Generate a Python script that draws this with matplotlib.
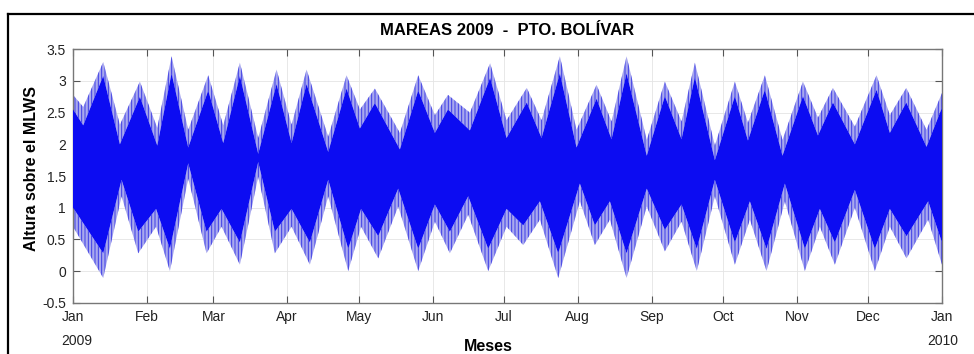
import numpy as np
import matplotlib
matplotlib.use("Agg")
import matplotlib.pyplot as plt
import matplotlib.dates as mdates
from matplotlib.lines import Line2D
from matplotlib.ticker import FuncFormatter

plt.rcParams["font.family"] = ["Liberation Sans", "DejaVu Sans"]
plt.rcParams["hatch.linewidth"] = 0.7

# Hourly tide envelope, Puerto Bolivar 2009 (day of year, metres over MLWS).
# Upper side: highest high water and the top of the dense band of highs.
HIGH_DAYS = [0, 4.3, 12.7, 19.7, 28.1, 35.4, 41.4, 48.4, 56.8, 63.1, 70.1, 77.8,
             85.5, 91.8, 98.1, 107.2, 114.9, 120.5, 126.8, 137.3, 145.0, 152.0,
             157.5, 166.7, 175.2, 182.1, 190.6, 196.8, 204.5, 211.5, 219.9, 226.2,
             232.5, 241.0, 248.6, 255.6, 261.2, 269.6, 278.0, 283.5, 290.6, 298.0,
             306.6, 312.9, 319.2, 328.4, 337.5, 343.1, 350.0, 358.5, 365.0]
HIGH_MAX = [2.78, 2.59, 3.30, 2.31, 2.99, 2.26, 3.39, 2.23, 3.09, 2.30, 3.29, 2.10,
            3.18, 2.31, 3.18, 2.12, 3.09, 2.55, 2.88, 2.18, 3.09, 2.46,
            2.78, 2.50, 3.28, 2.38, 2.89, 2.38, 3.39, 2.23, 2.94, 2.36,
            3.39, 2.07, 2.99, 2.36, 3.29, 1.98, 2.99, 2.34, 3.09, 2.07,
            2.99, 2.42, 2.89, 2.28, 3.09, 2.46, 2.89, 2.23, 2.81]
HIGH_CORE = [2.55, 2.30, 3.08, 2.00, 2.75, 1.98, 3.12, 1.95, 2.85, 2.02, 3.08, 1.85,
             2.95, 2.02, 2.95, 1.88, 2.88, 2.25, 2.65, 1.92, 2.85, 2.18,
             2.55, 2.22, 3.05, 2.10, 2.66, 2.10, 3.12, 1.95, 2.72, 2.08,
             3.12, 1.82, 2.76, 2.08, 3.06, 1.75, 2.76, 2.06, 2.86, 1.82,
             2.76, 2.14, 2.66, 2.00, 2.86, 2.18, 2.66, 1.96, 2.58]

# Lower side: lowest low water and the bottom of the dense band of lows.
LOW_DAYS = [0, 12.7, 20.4, 27.4, 34.9, 40.7, 48.4, 56.1, 62.4, 70.1, 77.8, 84.8,
            91.8, 99.5, 107.2, 115.6, 121.0, 128.2, 136.6, 145.0, 152.0, 158.3,
            166.0, 174.4, 182.1, 189.1, 196.1, 203.8, 212.9, 219.2, 225.5, 232.5,
            241.0, 248.6, 255.6, 262.0, 269.6, 278.0, 284.3, 291.3, 299.0, 307.4,
            313.7, 320.0, 328.4, 336.8, 343.1, 350.1, 359.2, 365.0]
LOW_MIN = [0.70, -0.11, 1.18, 0.28, 0.70, 0.00, 1.46, 0.28, 0.70, 0.10, 1.49, 0.28,
           0.70, 0.10, 1.18, 0.00, 0.70, 0.20, 1.02, 0.00, 0.78, 0.28,
           0.89, 0.00, 0.70, 0.41, 0.81, -0.11, 1.10, 0.41, 0.81, -0.11,
           1.02, 0.31, 0.78, 0.00, 1.18, 0.10, 0.81, 0.00, 1.10, 0.00,
           0.70, 0.10, 1.00, 0.00, 0.70, 0.20, 0.81, 0.10]
LOW_CORE = [1.00, 0.28, 1.44, 0.62, 0.98, 0.35, 1.70, 0.62, 0.98, 0.45, 1.72, 0.62,
            0.98, 0.45, 1.44, 0.35, 0.98, 0.55, 1.30, 0.35, 1.05, 0.62,
            1.18, 0.35, 0.98, 0.72, 1.10, 0.28, 1.38, 0.72, 1.10, 0.28,
            1.30, 0.65, 1.05, 0.35, 1.44, 0.45, 1.10, 0.35, 1.38, 0.35,
            0.98, 0.45, 1.28, 0.35, 0.98, 0.55, 1.10, 0.45]

T0 = mdates.date2num(np.datetime64("2009-01-01"))
T1 = mdates.date2num(np.datetime64("2010-01-01"))

CORE = "#0c0cf2"
EDGE_FACE = "#a9a9ee"
EDGE_HATCH = "#3c3ce6"

hx = T0 + np.asarray(HIGH_DAYS)
lx = T0 + np.asarray(LOW_DAYS)

fig = plt.figure(figsize=(9.74, 3.54), dpi=100)
ax = fig.add_axes([73 / 974, 51.3 / 354, 869 / 974, 253.4 / 354])

# light, line-textured fringes where only the extreme highs/lows reach
ax.fill_between(hx, HIGH_CORE, HIGH_MAX, facecolor=EDGE_FACE, edgecolor=EDGE_HATCH,
                hatch="|||||", linewidth=0, zorder=2)
ax.fill_between(lx, LOW_MIN, LOW_CORE, facecolor=EDGE_FACE, edgecolor=EDGE_HATCH,
                hatch="|||||", linewidth=0, zorder=2)
# solid band covered by every tidal cycle
ax.fill(np.concatenate([hx, lx[::-1]]),
        np.concatenate([HIGH_CORE, LOW_CORE[::-1]]),
        color=CORE, linewidth=0, zorder=3)

ax.set_xlim(T0, T1)
ax.set_ylim(-0.5, 3.5)
ax.set_yticks(np.arange(-0.5, 3.51, 0.5))
ax.yaxis.set_major_formatter(FuncFormatter(lambda v, _: f"{v:g}"))
ax.xaxis.set_major_locator(mdates.MonthLocator())
ax.xaxis.set_major_formatter(mdates.DateFormatter("%b"))

ax.grid(True, color="#e4e4e4", linewidth=0.6, zorder=0)
ax.set_axisbelow(True)
ax.tick_params(direction="in", length=5, width=0.8, color="#555555",
               top=True, right=True, labelsize=10, pad=5, labelcolor="#222222")
for sp in ax.spines.values():
    sp.set_color("#777777")
    sp.set_linewidth(1.0)

ax.set_title("MAREAS 2009  -  PTO. BOLÍVAR", fontsize=12, fontweight="bold", pad=10)
ax.set_ylabel("Altura sobre el MLWS", fontsize=11.5, fontweight="bold", va="center")
ax.yaxis.set_label_coords(-0.0475, 0.53)
ax.set_xlabel("Meses", fontsize=11.5, fontweight="bold", va="center")
ax.xaxis.set_label_coords(0.4775, -0.172)

ax.text(0.004, -0.15, "2009", transform=ax.transAxes, fontsize=10,
        ha="center", va="center", color="#222222")
ax.text(1.001, -0.15, "2010", transform=ax.transAxes, fontsize=10,
        ha="center", va="center", color="#222222")

# outer frame (left and top edges)
fig.add_artist(Line2D([8 / 974, 8 / 974], [0, 1 - 14 / 354], color="black",
                      linewidth=1.6, transform=fig.transFigure))
fig.add_artist(Line2D([8 / 974, 1], [1 - 14 / 354, 1 - 14 / 354], color="black",
                      linewidth=1.6, transform=fig.transFigure))

fig.savefig("out.png", dpi=100)
